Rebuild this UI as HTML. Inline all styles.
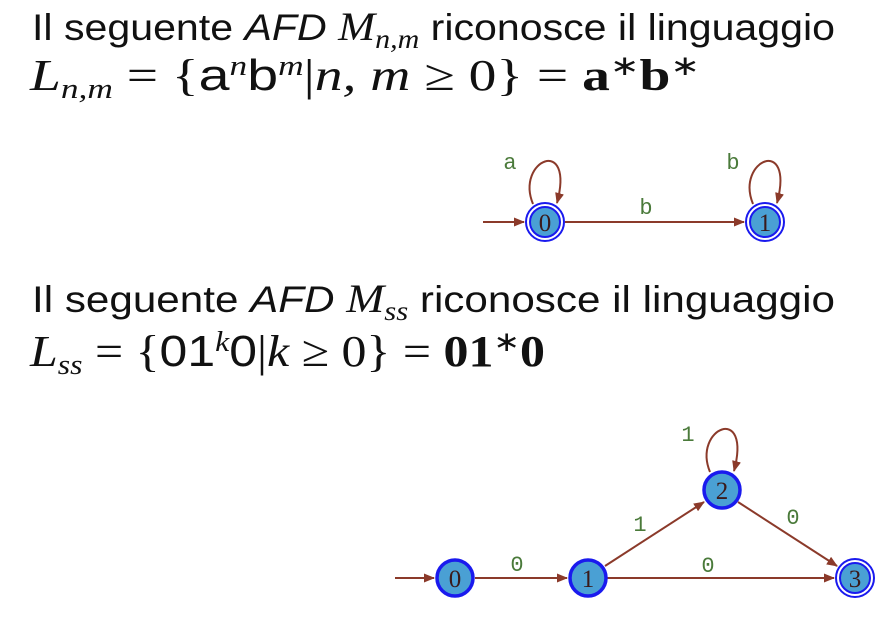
<!DOCTYPE html>
<html><head><meta charset="utf-8"><style>
html,body{margin:0;padding:0;background:#fff;width:890px;height:634px;overflow:hidden}
svg{display:block}
.t{font-family:"Liberation Sans",sans-serif;font-size:37px;fill:#111}
.m{font-family:"Liberation Serif",serif;font-size:44px;fill:#111}
.lab{font-family:"Liberation Mono",monospace;font-size:22px;fill:#4a7a3a}
.st{font-family:"Liberation Serif",serif;font-size:25px;fill:#3a1a1a}
</style></head><body>
<svg width="890" height="634">
<defs><marker id="ar" markerWidth="11" markerHeight="9" refX="10" refY="4.5" orient="auto" markerUnits="userSpaceOnUse"><path d="M0,0 L11,4.5 L0,9 z" fill="#8b3a2a"/></marker></defs>

<text class="t" x="32" y="40" textLength="803" lengthAdjust="spacingAndGlyphs">Il seguente <tspan font-style="italic">AFD</tspan> <tspan font-family="Liberation Serif" font-size="40" font-style="italic">M</tspan><tspan font-family="Liberation Serif" font-style="italic" font-size="27" dy="8">n,m</tspan><tspan dy="-8"> riconosce il linguaggio</tspan></text>
<text class="m" x="30" y="90" textLength="670" lengthAdjust="spacingAndGlyphs"><tspan font-style="italic">L</tspan><tspan font-style="italic" font-size="28" dy="8">n,m</tspan><tspan dy="-8"> = {</tspan><tspan font-family="Liberation Sans">a</tspan><tspan font-style="italic" font-size="28" dy="-15">n</tspan><tspan font-family="Liberation Sans" dy="15">b</tspan><tspan font-style="italic" font-size="28" dy="-15">m</tspan><tspan dy="15">|</tspan><tspan font-style="italic">n, m</tspan> ≥ 0} = <tspan font-weight="bold">a</tspan><tspan font-size="28" dy="-15">∗</tspan><tspan font-weight="bold" dy="15">b</tspan><tspan font-size="28" dy="-15">∗</tspan></text>

<g>
<line x1="483" y1="222" x2="524" y2="222" stroke="#8b3a2a" stroke-width="2" marker-end="url(#ar)"/>
<line x1="565" y1="222" x2="744" y2="222" stroke="#8b3a2a" stroke-width="2" marker-end="url(#ar)"/>
<path d="M533,204 C515,160 575,135 557,203" fill="none" stroke="#8b3a2a" stroke-width="2" marker-end="url(#ar)"/>
<path d="M753,204 C735,160 795,135 777,203" fill="none" stroke="#8b3a2a" stroke-width="2" marker-end="url(#ar)"/>
<g><circle cx="545" cy="222" r="19" fill="#fff" stroke="#1a1aee" stroke-width="2"/><circle cx="545" cy="222" r="15" fill="#4aa0d4" stroke="#1a1aee" stroke-width="2"/><text class="st" x="545" y="231" text-anchor="middle">0</text></g>
<g><circle cx="765" cy="222" r="19" fill="#fff" stroke="#1a1aee" stroke-width="2"/><circle cx="765" cy="222" r="15" fill="#4aa0d4" stroke="#1a1aee" stroke-width="2"/><text class="st" x="765" y="231" text-anchor="middle">1</text></g>
<text class="lab" x="510" y="169" text-anchor="middle">a</text>
<text class="lab" x="646" y="214" text-anchor="middle">b</text>
<text class="lab" x="733" y="169" text-anchor="middle">b</text>
</g>

<text class="t" x="32" y="312" textLength="803" lengthAdjust="spacingAndGlyphs">Il seguente <tspan font-style="italic">AFD</tspan> <tspan font-family="Liberation Serif" font-size="40" font-style="italic">M</tspan><tspan font-family="Liberation Serif" font-style="italic" font-size="27" dy="8">ss</tspan><tspan dy="-8"> riconosce il linguaggio</tspan></text>
<text class="m" x="30" y="366" textLength="515" lengthAdjust="spacingAndGlyphs"><tspan font-style="italic">L</tspan><tspan font-style="italic" font-size="28" dy="8">ss</tspan><tspan dy="-8"> = {</tspan><tspan font-family="Liberation Sans">01</tspan><tspan font-style="italic" font-size="28" dy="-15">k</tspan><tspan font-family="Liberation Sans" dy="15">0</tspan>|<tspan font-style="italic">k</tspan> ≥ 0} = <tspan font-weight="bold">01</tspan><tspan font-size="28" dy="-15">∗</tspan><tspan font-weight="bold" dy="15">0</tspan></text>

<g>
<line x1="395" y1="578" x2="434" y2="578" stroke="#8b3a2a" stroke-width="2" marker-end="url(#ar)"/>
<line x1="475" y1="578" x2="567" y2="578" stroke="#8b3a2a" stroke-width="2" marker-end="url(#ar)"/>
<line x1="607" y1="578" x2="834" y2="578" stroke="#8b3a2a" stroke-width="2" marker-end="url(#ar)"/>
<line x1="605" y1="566" x2="704" y2="502" stroke="#8b3a2a" stroke-width="2" marker-end="url(#ar)"/>
<line x1="738" y1="502" x2="837" y2="566" stroke="#8b3a2a" stroke-width="2" marker-end="url(#ar)"/>
<path d="M710,472 C692,428 752,403 734,471" fill="none" stroke="#8b3a2a" stroke-width="2" marker-end="url(#ar)"/>
<g><circle cx="455" cy="578" r="18" fill="#4aa0d4" stroke="#1a1aee" stroke-width="3.5"/><text class="st" x="455" y="587" text-anchor="middle">0</text></g>
<g><circle cx="588" cy="578" r="18" fill="#4aa0d4" stroke="#1a1aee" stroke-width="3.5"/><text class="st" x="588" y="587" text-anchor="middle">1</text></g>
<g><circle cx="722" cy="490" r="18" fill="#4aa0d4" stroke="#1a1aee" stroke-width="3.5"/><text class="st" x="722" y="499" text-anchor="middle">2</text></g>
<g><circle cx="855" cy="578" r="19" fill="#fff" stroke="#1a1aee" stroke-width="2"/><circle cx="855" cy="578" r="15" fill="#4aa0d4" stroke="#1a1aee" stroke-width="2"/><text class="st" x="855" y="587" text-anchor="middle">3</text></g>
<text class="lab" x="517" y="571" text-anchor="middle">0</text>
<text class="lab" x="640" y="531" text-anchor="middle">1</text>
<text class="lab" x="708" y="572" text-anchor="middle">0</text>
<text class="lab" x="793" y="524" text-anchor="middle">0</text>
<text class="lab" x="688" y="441" text-anchor="middle">1</text>
</g>
</svg>
</body></html>
